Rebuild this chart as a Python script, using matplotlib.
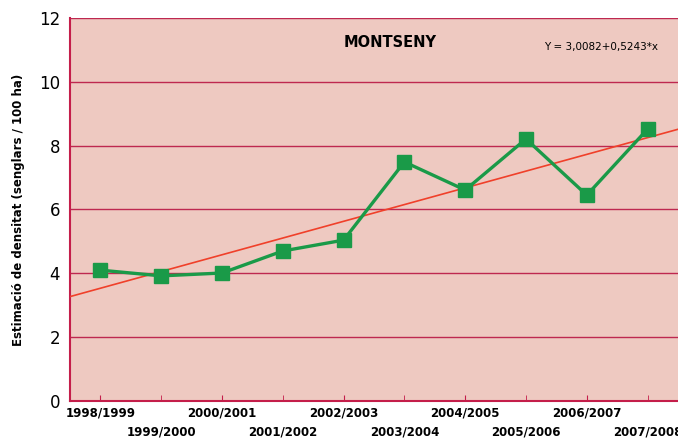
import numpy as np
import matplotlib.pyplot as plt

# Seasons and density estimates (wild boars / 100 ha)
seasons = ['1998/1999', '1999/2000', '2000/2001', '2001/2002', '2002/2003',
           '2003/2004', '2004/2005', '2005/2006', '2006/2007', '2007/2008']
density = [4.10, 3.92, 4.01, 4.70, 5.04, 7.49, 6.61, 8.21, 6.45, 8.52]

# Linear trend Y = a + b*x, x = 1..10
trend_a = 3.0082
trend_b = 0.5243

crimson = '#C41E4A'
bg = '#EEC9C1'

fig = plt.figure(figsize=(6.78, 4.38), dpi=100)
ax = fig.add_axes([0.1032, 0.0845, 0.8968, 0.8744])
ax.set_facecolor(bg)

idx = np.arange(len(seasons))

# Trend line across the whole plot width
xt = np.array([-0.5, 9.5])
ax.plot(xt, trend_a + trend_b * (xt + 1), color='#F0402A', lw=1.2, zorder=3)

# Data series
ax.plot(idx, density, color='#1A9A48', lw=2.4, marker='s', markersize=9.5,
        markeredgecolor='#1A9A48', zorder=4)

ax.set_xlim(-0.5, 9.5)
ax.set_ylim(0, 12)
ax.set_yticks(range(0, 13, 2))
ax.yaxis.grid(True, color='#BE2850', lw=1.0)
ax.set_axisbelow(True)

# two-row season labels: even ones on major ticks, odd ones on minor ticks lower down
ax.set_xticks(idx[::2])
ax.set_xticklabels(seasons[::2], fontsize=8.5, fontweight='bold')
ax.set_xticks(idx[1::2], minor=True)
ax.set_xticklabels(seasons[1::2], minor=True, fontsize=8.5, fontweight='bold')
ax.tick_params(axis='x', which='both', direction='in', length=4, color=crimson)
ax.tick_params(axis='x', which='major', pad=4)
ax.tick_params(axis='x', which='minor', pad=18)
ax.tick_params(axis='y', length=0, labelsize=12, pad=7)

for side in ['top', 'right']:
    ax.spines[side].set_visible(False)
for side in ['left', 'bottom']:
    ax.spines[side].set_color(crimson)
    ax.spines[side].set_linewidth(1.5)

ax.set_ylabel('Estimació de densitat (senglars / 100 ha)', fontsize=8.5,
              fontweight='bold', labelpad=10)

ax.text(0.526, 0.935, 'MONTSENY', transform=ax.transAxes, ha='center', va='center',
        fontsize=10.5, fontweight='bold')
ax.text(0.873, 0.925, 'Y = 3,0082+0,5243*x', transform=ax.transAxes, ha='center',
        va='center', fontsize=7.5)

fig.savefig('out.png', dpi=100)
